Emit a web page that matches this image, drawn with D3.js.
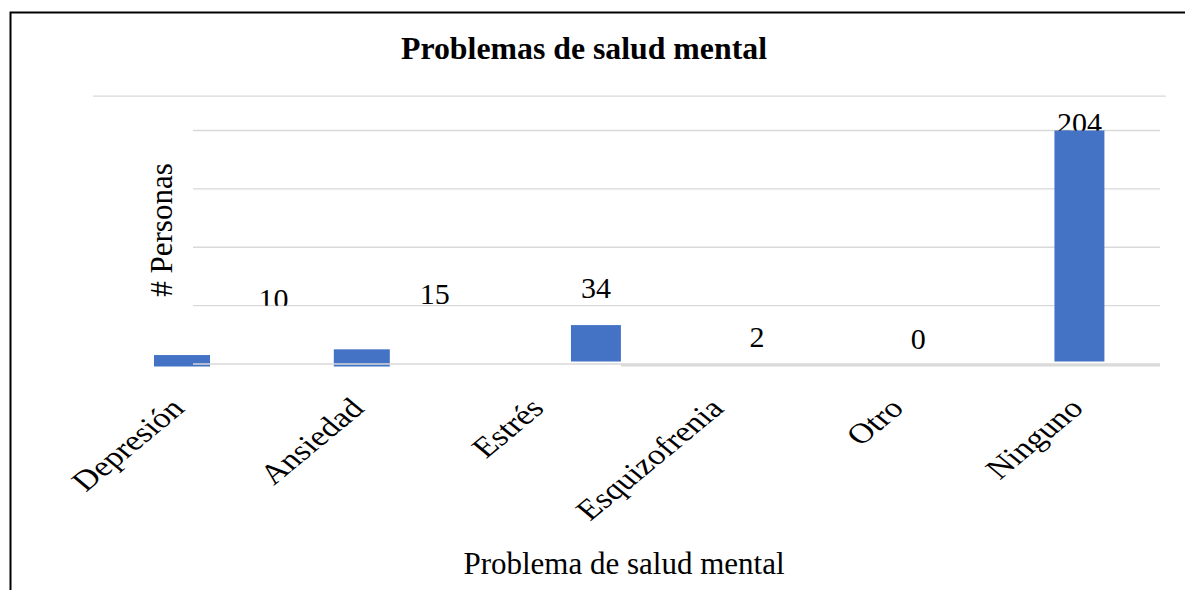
<!DOCTYPE html>
<html>
<head>
<meta charset="utf-8">
<script src="https://cdn.jsdelivr.net/npm/d3@7"></script>
<style>
  body { margin: 0; background: #fff; }
  svg { display: block; font-family: "Liberation Serif", "Times New Roman", serif; }
</style>
</head>
<body>
<script>
// ---------- DATA ----------
var categories = ["Depresión", "Ansiedad", "Estrés", "Esquizofrenia", "Otro", "Ninguno"];
var values = [10, 15, 34, 2, 0, 204];
var gridValues = [0, 51, 102, 153, 204];
var outerGridValue = 234;

var title = "Problemas de salud mental";
var xTitle = "Problema de salud mental";
var yTitle = "# Personas";

// ---------- LAYOUT ----------
var w = 1185, h = 590;
var plot = { left: 193, right: 1160, top: 130.5, bottom: 364 };
var barColor = "#4472c4";
var gridColor = "#d9d9d9";

// the first two bars sit on the label grid, a little lower (as in the source image)
var shifted = ["Depresión", "Ansiedad"];
var shiftDown = 2.5;
// value labels are not placed evenly above the bars in the source
var labelLift = [44, 43, 27, 15, 15, -2.5];

var svg = d3.select("body").append("svg")
  .attr("width", w)
  .attr("height", h);

svg.append("rect").attr("width", w).attr("height", h).attr("fill", "#fff");

// frame
svg.append("rect")
  .attr("x", 10.5).attr("y", 12.5)
  .attr("width", w + 20).attr("height", h + 20)
  .attr("fill", "none")
  .attr("stroke", "#000")
  .attr("stroke-width", 2);

// ---------- SCALES ----------
var x = d3.scaleBand()
  .domain(categories)
  .range([plot.left, plot.right])
  .paddingInner(0.69)
  .paddingOuter(0.345);

var xLab = d3.scalePoint()
  .domain(categories)
  .range([182, 1081]);

var y = d3.scaleLinear()
  .domain([0, 204])
  .range([plot.bottom, plot.top]);

var data = categories.map((c, i) => ({ cat: c, value: values[i], index: i }));

// ---------- SHIFTED BARS (behind grid) ----------
var shiftW = 56;
svg.append("g").selectAll("rect")
  .data(data.filter(d => shifted.includes(d.cat)))
  .enter().append("rect")
  .attr("x", d => xLab(d.cat) - shiftW / 2)
  .attr("y", d => y(d.value) + shiftDown)
  .attr("width", shiftW)
  .attr("height", d => y(0) - y(d.value))
  .attr("fill", barColor);

// ---------- GRID ----------
svg.append("g").selectAll("line")
  .data(gridValues)
  .enter().append("line")
  .attr("x1", plot.left).attr("x2", plot.right)
  .attr("y1", d => y(d)).attr("y2", d => y(d))
  .attr("stroke", gridColor)
  .attr("stroke-width", 1.4);

svg.append("line")
  .attr("x1", 93).attr("x2", 1166)
  .attr("y1", y(outerGridValue)).attr("y2", y(outerGridValue))
  .attr("stroke", gridColor)
  .attr("stroke-width", 1.4);

// axis line
svg.append("line")
  .attr("x1", x("Estrés") + x.bandwidth()).attr("x2", plot.right)
  .attr("y1", y(0) + 1.3).attr("y2", y(0) + 1.3)
  .attr("stroke", gridColor)
  .attr("stroke-width", 2.2);

// ---------- VALUE LABELS ----------
svg.append("clipPath").attr("id", "clipTop")
  .append("rect")
  .attr("x", 0).attr("y", 0)
  .attr("width", w).attr("height", y(51));

svg.append("g").selectAll("text")
  .data(data)
  .enter().append("text")
  .attr("x", d => x(d.cat) + x.bandwidth() / 2)
  .attr("y", d => y(d.value) - labelLift[d.index])
  .attr("text-anchor", "middle")
  .attr("font-size", "30px")
  .attr("fill", "#000")
  .attr("clip-path", d => shifted.includes(d.cat) ? "url(#clipTop)" : null)
  .text(d => d.value);

// ---------- MAIN BARS ----------
svg.append("g").selectAll("rect")
  .data(data.filter(d => !shifted.includes(d.cat)))
  .enter().append("rect")
  .attr("x", d => x(d.cat))
  .attr("y", d => y(d.value))
  .attr("width", x.bandwidth())
  .attr("height", d => Math.max(0, y(0) - y(d.value) - 2.5))
  .attr("fill", barColor);

// ---------- CATEGORY LABELS ----------
// labels in the source look stretched sideways, so scale after rotating
svg.append("g").selectAll("text")
  .data(data)
  .enter().append("text")
  .attr("transform", d => "translate(" + (xLab(d.cat) + 4) + ",410) scale(1.15,0.95) rotate(-45)")
  .attr("text-anchor", "end")
  .attr("font-size", "30px")
  .attr("fill", "#000")
  .text(d => d.cat);

// ---------- TITLES ----------
svg.append("text")
  .attr("x", 584).attr("y", 59)
  .attr("text-anchor", "middle")
  .attr("font-size", "31.8px")
  .attr("font-weight", "bold")
  .text(title);

svg.append("text")
  .attr("x", 624).attr("y", 574)
  .attr("text-anchor", "middle")
  .attr("font-size", "31px")
  .text(xTitle);

svg.append("text")
  .attr("transform", "translate(172,230) rotate(-90)")
  .attr("text-anchor", "middle")
  .attr("font-size", "31px")
  .text(yTitle);
</script>
</body>
</html>
